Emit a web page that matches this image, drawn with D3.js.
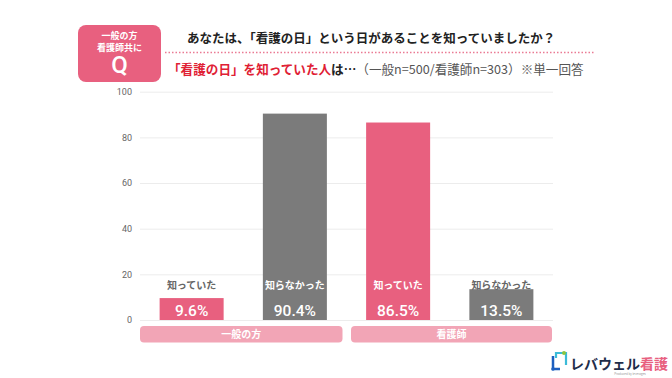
<!DOCTYPE html>
<html><head><meta charset="utf-8">
<script src="https://cdn.jsdelivr.net/npm/d3@7"></script>
<style>
html,body{margin:0;padding:0;background:#fff;}
svg{display:block;font-family:"Noto Sans CJK JP","Noto Sans",sans-serif;}
</style></head>
<body><svg id="c" width="672" height="378"></svg>
<script>
const categories = ["知っていた","知らなかった","知っていた","知らなかった"];
const groups = ["一般の方","一般の方","看護師","看護師"];
const groupNames = ["一般の方","看護師"];
const values = [9.6, 90.4, 86.5, 13.5];
const yTicks = [0,20,40,60,80,100];
const barColors = ["#e8607f","#7b7b7b","#e8607f","#7b7b7b"];

const svg = d3.select("#c");
const pink = "#e8607f";

// Header box
svg.append("rect").attr("x",78).attr("y",25).attr("width",83).attr("height",57).attr("rx",8).attr("fill",pink);
svg.append("text").attr("x",119.5).attr("y",38.5).attr("text-anchor","middle").attr("fill","#fff").attr("font-size",9).attr("font-weight","bold").text("一般の方");
svg.append("text").attr("x",119.5).attr("y",50.5).attr("text-anchor","middle").attr("fill","#fff").attr("font-size",9).attr("font-weight","bold").text("看護師共に");
svg.append("text").attr("x",119.5).attr("y",73).attr("text-anchor","middle").attr("fill","#fff").attr("font-size",24).attr("font-weight",500).attr("font-family","Roboto, sans-serif").text("Q");

// Title
svg.append("text").attr("x",187).attr("y",42.5).attr("fill","#222").attr("font-size",12.5).attr("font-weight","bold")
  .text("あなたは、「看護の日」という日があることを知っていましたか？");
svg.append("line").attr("x1",165).attr("x2",594).attr("y1",52.5).attr("y2",52.5)
  .attr("stroke","#ea7a93").attr("stroke-width",1.5).attr("stroke-dasharray","1.5,2");
const sub = svg.append("text").attr("x",168).attr("y",74).attr("font-size",12.6);
sub.append("tspan").attr("fill","#e02034").attr("font-weight","bold").text("「看護の日」を知っていた人");
sub.append("tspan").attr("fill","#222").attr("font-weight","bold").text("は…");
sub.append("tspan").attr("fill","#555").text("（一般n=500/看護師n=303）※単一回答");

// Scales
const y = d3.scaleLinear().domain([0,100]).range([320, 91.7]);
const x = d3.scaleBand().domain(d3.range(values.length)).range([140,553]).paddingInner(0.38).paddingOuter(0.19);

// Grid
svg.append("g").selectAll("line").data(yTicks).join("line")
  .attr("x1",140).attr("x2",553).attr("y1",d=>y(d)+0.5).attr("y2",d=>y(d)+0.5)
  .attr("stroke","#ececec").attr("stroke-width",1);

// Axis
const ax = svg.append("g").attr("transform","translate(140,0)")
  .call(d3.axisLeft(y).tickValues(yTicks).tickSize(0).tickPadding(8));
ax.select(".domain").remove();
ax.selectAll("text").attr("fill","#666").attr("font-size",9).attr("font-family","Roboto, sans-serif");

// Bars
svg.append("g").selectAll("rect").data(values).join("rect")
  .attr("x",(d,i)=>x(i)).attr("width",x.bandwidth())
  .attr("y",d=>y(d)).attr("height",d=>y(0)-y(d))
  .attr("fill",(d,i)=>barColors[i]);

// Category labels
svg.append("g").selectAll("text").data(values).join("text")
  .attr("x",(d,i)=>x(i)+x.bandwidth()/2).attr("y",288.5)
  .attr("text-anchor","middle").attr("font-size",10).attr("font-weight","bold")
  .attr("fill",d=>y(d) < 278 ? "#fff" : "#666")
  .text((d,i)=>categories[i]);

// Value labels
svg.append("g").selectAll("text").data(values).join("text")
  .attr("x",(d,i)=>x(i)+x.bandwidth()/2).attr("y",316)
  .attr("text-anchor","middle").attr("font-size",15.5).attr("font-weight",500).attr("font-family","Roboto, sans-serif")
  .attr("fill","#fff")
  .text(d=>d.toFixed(1)+"%");

// Group bands
groupNames.forEach(g=>{
  const idx = groups.map((v,i)=>v===g?i:-1).filter(i=>i>=0);
  const x0 = x(idx[0]) - x.step()*x.paddingOuter() - 0.5;
  const x1 = x(idx[idx.length-1]) + x.bandwidth() + x.step()*x.paddingOuter();
  const first = idx[0]===0;
  const left = first ? 140 : x0 + 5;
  const right = first ? x1 - 4 : 552;
  svg.append("rect").attr("x",left).attr("y",326).attr("width",right-left).attr("height",16.5).attr("rx",4).attr("fill","#f2a5b6");
  svg.append("text").attr("x",(left+right)/2).attr("y",338).attr("text-anchor","middle")
    .attr("fill","#fff").attr("font-size",10).attr("font-weight","bold").text(g);
});

// Logo
const lg = svg.append("g");
lg.append("path").attr("d","M553,356 L553,369 L560,369").attr("fill","none").attr("stroke","#1d5fbf").attr("stroke-width",2.5);
lg.append("path").attr("d","M556,358 L556,353 L566,353 L566,365").attr("fill","none").attr("stroke","#3bbbd8").attr("stroke-width",2.2);
lg.append("circle").attr("cx",564).attr("cy",353).attr("r",2).attr("fill","#8cc63f");
lg.append("circle").attr("cx",553).attr("cy",369).attr("r",1.8).attr("fill","#1d5fbf");
const lt = lg.append("text").attr("x",570).attr("y",369).attr("font-size",14).attr("font-weight","bold");
lt.append("tspan").attr("fill","#1f2d4a").text("レバウェル");
lt.append("tspan").attr("fill",pink).text("看護");
lg.append("text").attr("x",630).attr("y",375).attr("font-size",3).attr("fill","#999").attr("text-anchor","middle").text("Produced by leverages");
</script></body></html>
